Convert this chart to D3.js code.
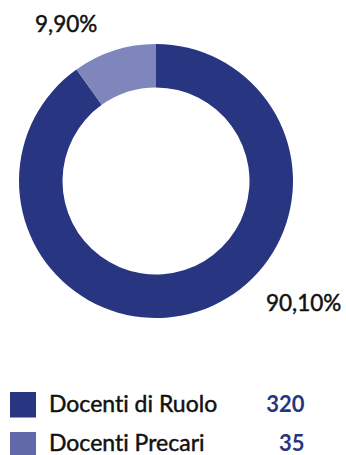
<!DOCTYPE html>
<html>
<head>
<meta charset="utf-8">
<script src="https://cdn.jsdelivr.net/npm/d3@7"></script>
<style>
  html, body { margin: 0; padding: 0; background: #fff; }
  svg { display: block; }
  text { font-variant-ligatures: none; }
</style>
</head>
<body>
<svg id="chart" width="346" height="455"></svg>
<script>
// Teaching staff by contract type
const categories = ["Docenti di Ruolo", "Docenti Precari"];
const values = [320, 35];
const percentLabels = ["90,10%", "9,90%"];
const sliceColors = ["#283580", "#7f86bb"];
const legendColors = ["#283580", "#6269a8"];

const svg = d3.select("#chart");
const font = "Lato, 'Open Sans', sans-serif";

const cx = 156, cy = 181;
const outerR = 137, innerR = 93.5;

const pie = d3.pie().sort(null).value(d => d)(values);
const arc = d3.arc().innerRadius(innerR).outerRadius(outerR);

const g = svg.append("g").attr("transform", `translate(${cx},${cy})`);
g.selectAll("path")
  .data(pie)
  .join("path")
  .attr("d", arc)
  .attr("fill", (d, i) => sliceColors[i]);

// Percentage labels placed outside the ring
const labelPos = [
  { x: 266, y: 310.5, anchor: "start" },
  { x: 35, y: 31.5, anchor: "start" }
];
svg.selectAll("text.pct")
  .data(percentLabels)
  .join("text")
  .attr("class", "pct")
  .attr("x", (d, i) => labelPos[i].x)
  .attr("y", (d, i) => labelPos[i].y)
  .attr("text-anchor", (d, i) => labelPos[i].anchor)
  .attr("font-family", font)
  .attr("font-size", 22.5)
  .attr("fill", "#111")
  .attr("stroke", "#111")
  .attr("stroke-width", 0.45)
  .text(d => d);

// Legend
const legendTop = 392, rowGap = 39;
const legend = svg.selectAll("g.legend")
  .data(categories)
  .join("g")
  .attr("class", "legend")
  .attr("transform", (d, i) => `translate(0,${legendTop + i * rowGap})`);

legend.append("rect")
  .attr("x", 10).attr("y", (d, i) => i ? 1 : 0)
  .attr("width", 26).attr("height", 25.5)
  .attr("fill", (d, i) => legendColors[i]);

legend.append("text")
  .attr("x", 49).attr("y", 20)
  .attr("font-family", font)
  .attr("font-size", 23)
  .attr("fill", "#111")
  .attr("stroke", "#111")
  .attr("stroke-width", 0.45)
  .text(d => d);

legend.append("text")
  .attr("x", 304.5).attr("y", 20)
  .attr("text-anchor", "end")
  .attr("font-family", font)
  .attr("font-size", 22)
  .attr("font-weight", "bold")
  .attr("fill", "#283580")
  .text((d, i) => values[i]);
</script>
</body>
</html>
